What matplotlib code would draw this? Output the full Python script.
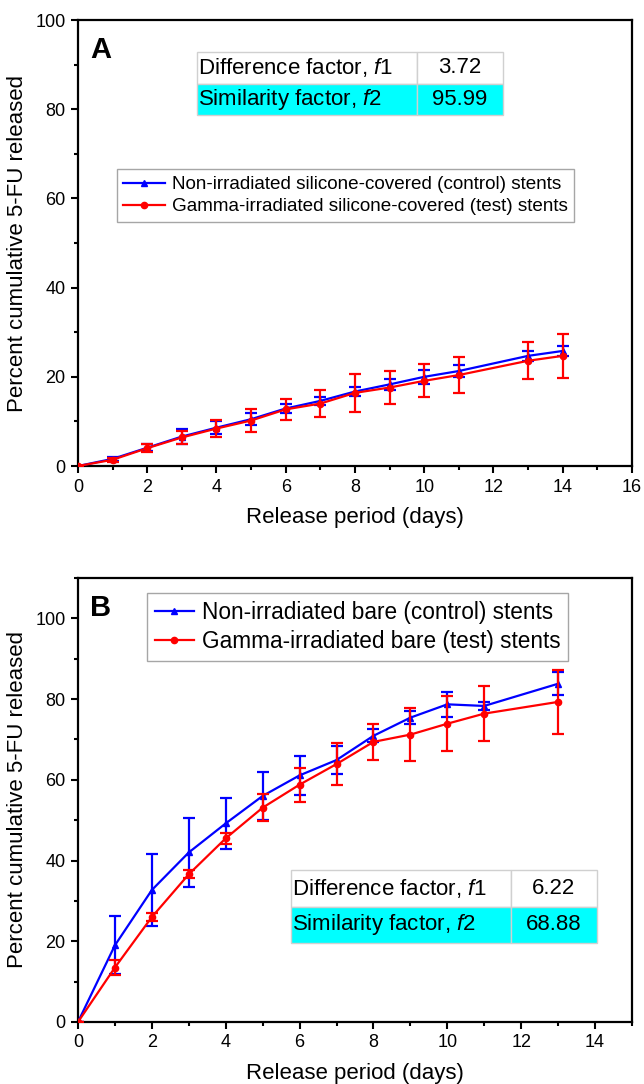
import matplotlib
matplotlib.use("Agg")
import matplotlib.pyplot as plt
from matplotlib.ticker import MultipleLocator

plt.rcParams["font.family"] = ["Liberation Sans", "DejaVu Sans"]
plt.rcParams["mathtext.fontset"] = "custom"
plt.rcParams["mathtext.it"] = "Liberation Sans:italic"
plt.rcParams["mathtext.rm"] = "Liberation Sans"

# Panel A: silicone-covered stents
days_a = [0, 1, 2, 3, 4, 5, 6, 7, 8, 9, 10, 11, 13, 14]
ctrl_a = [0, 1.6, 4.1, 6.6, 8.6, 10.5, 12.9, 14.6, 16.7, 18.3, 20.0, 21.3, 24.7, 25.8]
ctrl_a_err = [0, 0.5, 0.8, 1.6, 1.5, 1.4, 1.0, 0.9, 1.1, 1.2, 1.6, 1.4, 1.2, 1.1]
test_a = [0, 1.4, 4.0, 6.4, 8.4, 10.2, 12.7, 14.0, 16.4, 17.6, 19.1, 20.4, 23.6, 24.7]
test_a_err = [0, 0.5, 0.9, 1.5, 2.0, 2.6, 2.4, 3.0, 4.2, 3.8, 3.7, 4.1, 4.2, 4.9]
labels_a = ["Non-irradiated silicone-covered (control) stents",
            "Gamma-irradiated silicone-covered (test) stents"]
table_a = [["Difference factor, $\\mathit{f}$1", "3.72"],
           ["Similarity factor, $\\mathit{f}$2", "95.99"]]

# Panel B: bare stents
days_b = [0, 1, 2, 3, 4, 5, 6, 7, 8, 9, 10, 11, 13]
ctrl_b = [0, 19.0, 32.7, 42.0, 49.2, 56.0, 61.1, 64.9, 70.9, 75.4, 78.7, 78.3, 83.8]
ctrl_b_err = [0, 7.2, 9.0, 8.5, 6.4, 6.0, 4.9, 3.4, 1.6, 1.6, 3.1, 1.0, 2.9]
test_b = [0, 13.5, 26.0, 36.6, 45.5, 53.1, 58.8, 63.9, 69.4, 71.2, 73.9, 76.4, 79.3]
test_b_err = [0, 1.8, 1.0, 1.0, 1.4, 3.4, 4.2, 5.3, 4.4, 6.5, 6.8, 6.8, 7.9]
labels_b = ["Non-irradiated bare (control) stents",
            "Gamma-irradiated bare (test) stents"]
table_b = [["Difference factor, $\\mathit{f}$1", "6.22"],
           ["Similarity factor, $\\mathit{f}$2", "68.88"]]

BLUE = "#0000ff"
RED = "#ff0000"


def draw_panel(ax, days, ctrl, ctrl_err, test, test_err, labels, letter,
               xmax, ymax, leg_anchor, leg_size, leg_hlen, table_rows, table_bbox):
    ax.errorbar(days, ctrl, yerr=ctrl_err, color=BLUE, marker="^", markersize=5,
                lw=1.6, elinewidth=1.6, capsize=4, capthick=1.6, label=labels[0],
                zorder=3)
    ax.errorbar(days, test, yerr=test_err, color=RED, marker="o", markersize=4.5,
                lw=1.6, elinewidth=1.6, capsize=4, capthick=1.6, label=labels[1],
                zorder=4)
    ax.set_xlim(0, xmax)
    ax.set_ylim(0, ymax)
    ax.xaxis.set_major_locator(MultipleLocator(2))
    ax.xaxis.set_minor_locator(MultipleLocator(1))
    ax.yaxis.set_major_locator(MultipleLocator(20))
    ax.yaxis.set_minor_locator(MultipleLocator(10))
    ax.tick_params(which="major", direction="out", length=5, width=1.5,
                   labelsize=13, pad=4)
    ax.tick_params(which="minor", direction="out", length=3, width=1.5)
    for sp in ax.spines.values():
        sp.set_linewidth(1.6)
    ax.set_xlabel("Release period (days)", fontsize=16, labelpad=8)
    ax.set_ylabel("Percent cumulative 5-FU released", fontsize=16, labelpad=5)
    ax.text(0.022, 0.965, letter, transform=ax.transAxes, fontsize=21,
            fontweight="bold", va="top", ha="left")

    handles, labs = ax.get_legend_handles_labels()
    handles = [h[0] for h in handles]
    leg = ax.legend(handles, labs, loc="upper left", bbox_to_anchor=leg_anchor,
                    fontsize=leg_size, frameon=True, fancybox=False,
                    handlelength=leg_hlen, handletextpad=0.35, borderpad=0.35,
                    labelspacing=0.25, borderaxespad=0)
    leg.get_frame().set_edgecolor("#909090")
    leg.get_frame().set_linewidth(1.0)

    tbl = ax.table(cellText=table_rows, bbox=table_bbox, colWidths=[0.72, 0.28],
                   cellLoc="center")
    tbl.auto_set_font_size(False)
    for (r, c), cell in tbl.get_celld().items():
        cell.set_edgecolor("#d0d0d0")
        cell.set_linewidth(1.0)
        cell.set_text_props(fontsize=16)
        if r == 1:
            cell.set_facecolor("#00ffff")
        if c == 0:
            cell.set_text_props(ha="left")
            cell.PAD = 0.005
    return ax


fig = plt.figure(figsize=(6.44, 10.84), dpi=100)
ax_a = fig.add_axes([0.1211, 0.5701, 0.8602, 0.4114])
ax_b = fig.add_axes([0.1211, 0.0572, 0.8602, 0.4096])

draw_panel(ax_a, days_a, ctrl_a, ctrl_a_err, test_a, test_a_err, labels_a, "A",
           16, 100, (0.07, 0.665), 13.6, 2.2, table_a, [0.215, 0.787, 0.552, 0.141])
draw_panel(ax_b, days_b, ctrl_b, ctrl_b_err, test_b, test_b_err, labels_b, "B",
           15, 110, (0.125, 0.966), 16.3, 1.7, table_b, [0.3845, 0.178, 0.552, 0.164])

fig.savefig("out.png", dpi=100)
